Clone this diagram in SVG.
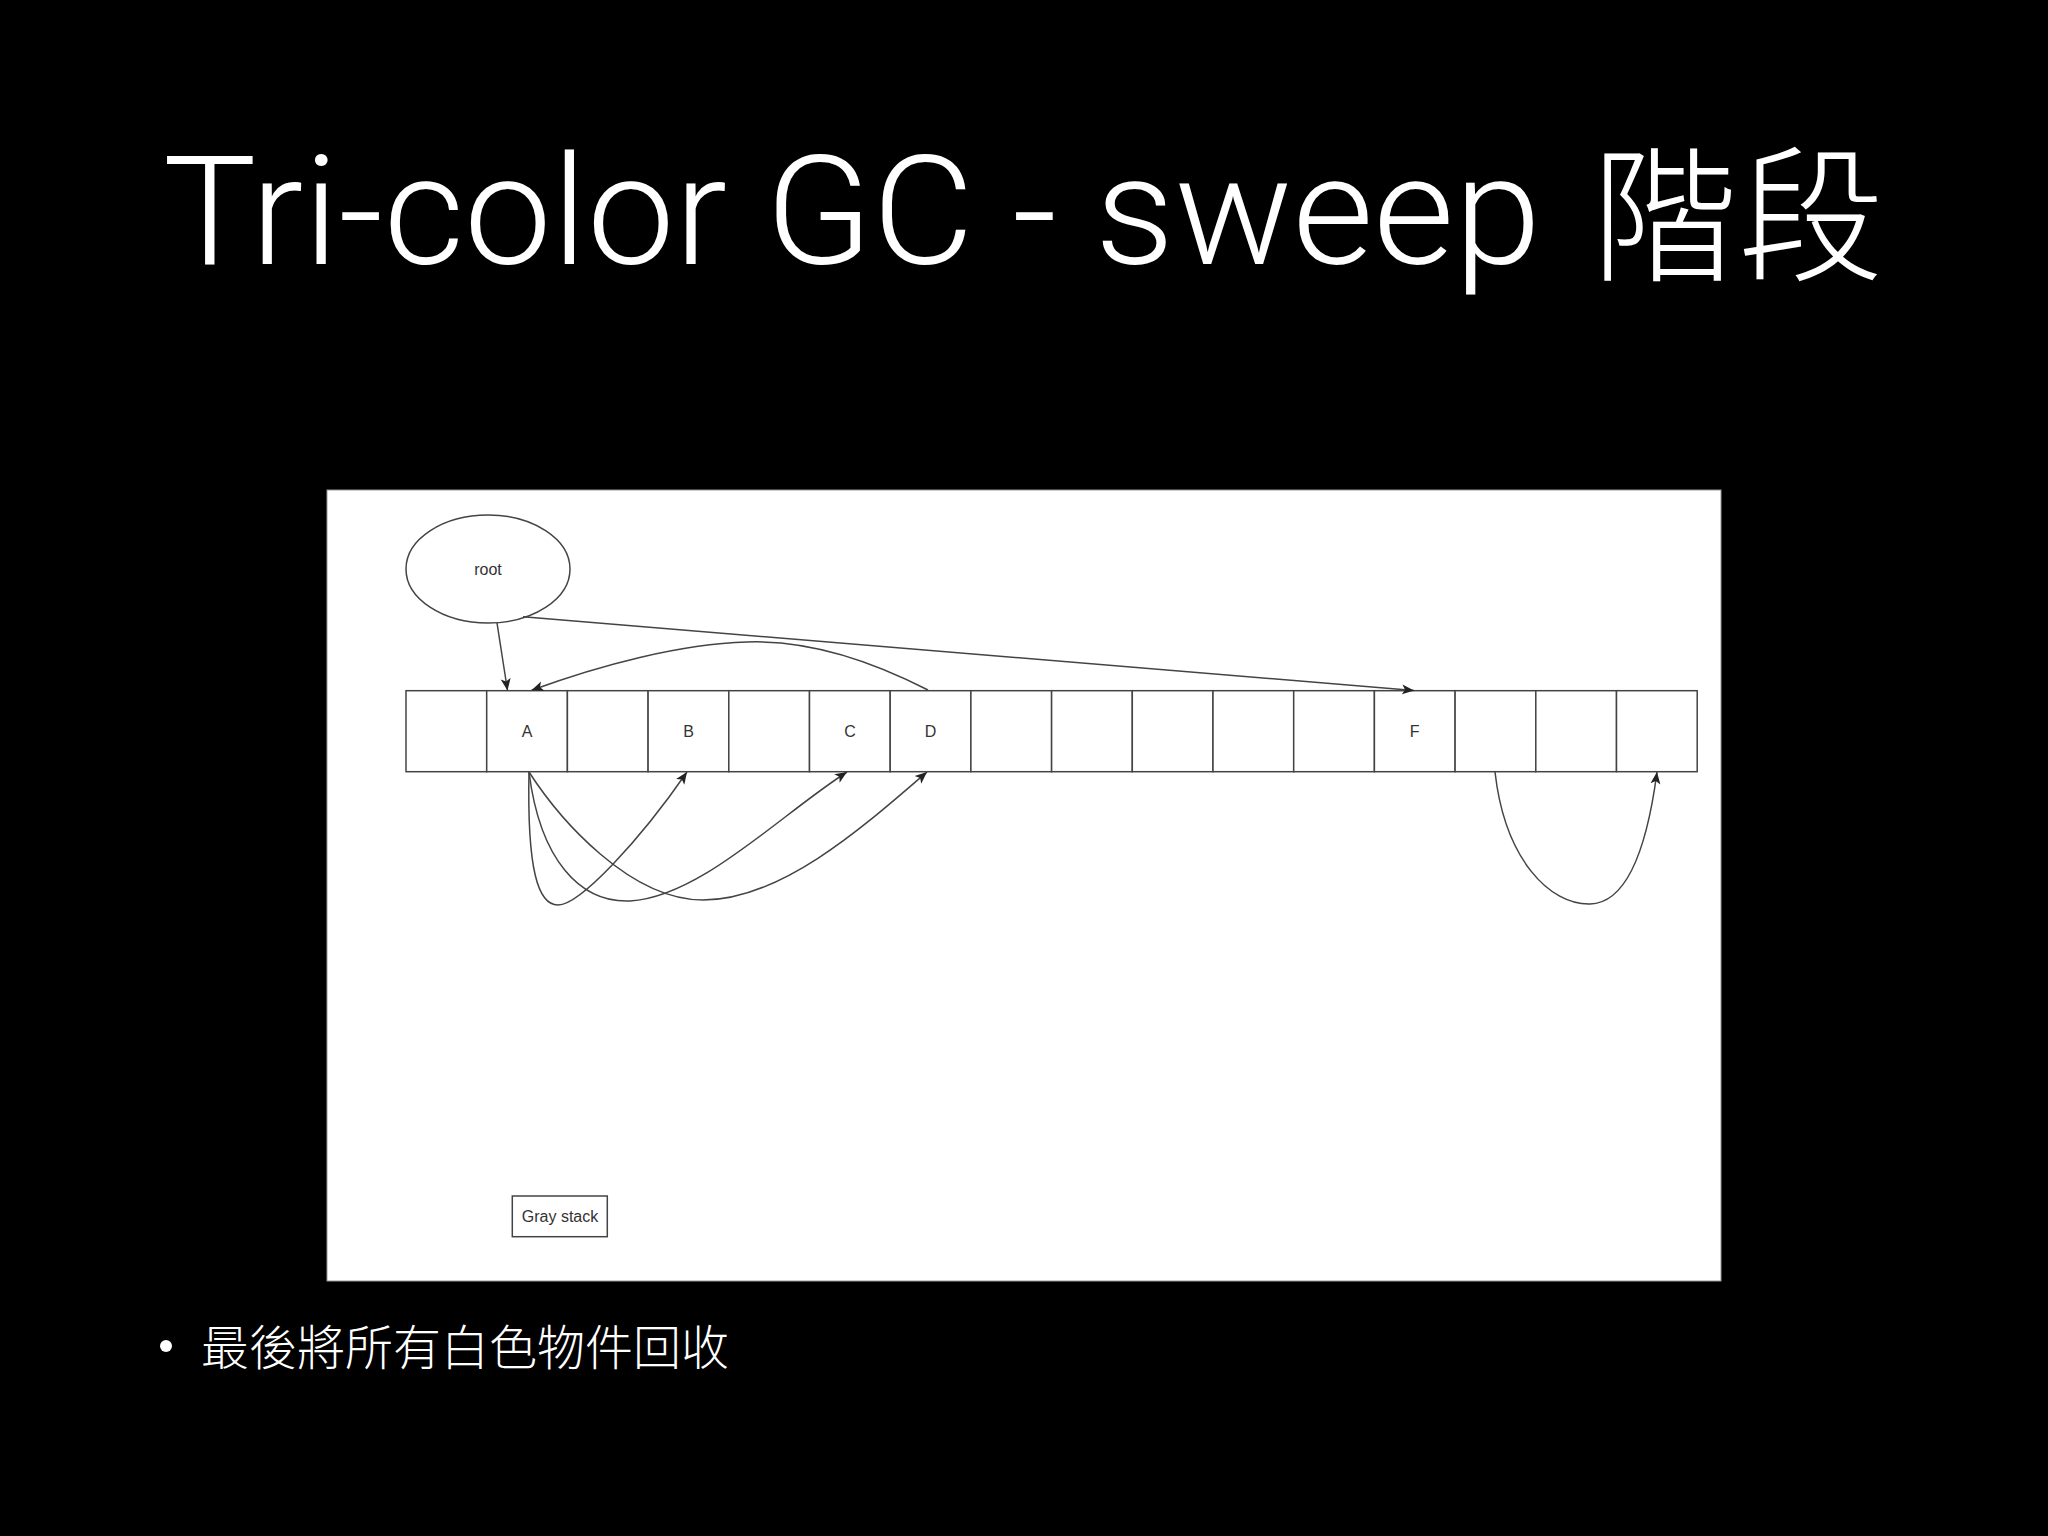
<svg xmlns="http://www.w3.org/2000/svg" width="2048" height="1536" viewBox="0 0 2048 1536">
<style>
.cell{fill:#fff;stroke:#444;stroke-width:1.5}
.lbl{font-family:"Liberation Sans",Arial,sans-serif;font-size:16px;fill:#333;text-anchor:middle}
.edge{fill:none;stroke:#444;stroke-width:1.5}
.title{font-family:Roboto,"Liberation Sans",sans-serif;font-weight:300;fill:#fff}
.cjk{font-family:"Noto Sans CJK TC","Noto Sans CJK SC",sans-serif;font-weight:300;fill:#fff}
</style>
<defs>
<marker id="arr" markerUnits="userSpaceOnUse" markerWidth="14" markerHeight="12" refX="12" refY="6" orient="auto">
<path d="M0,1 L12,6 L0,11 L3,6 Z" fill="#222"/>
</marker>
</defs>
<rect x="0" y="0" width="2048" height="1536" fill="#000"/>
<text class="title" x="163" y="264" font-size="152" textLength="1378" lengthAdjust="spacingAndGlyphs">Tri-color GC - sweep</text>
<text class="cjk" x="1592" y="269" font-size="146">階段</text>
<rect x="327" y="490" width="1394" height="791" fill="#fff" stroke="#999" stroke-width="1"/>
<g id="root">
<ellipse cx="488" cy="569" rx="82" ry="54" fill="#fff" stroke="#444" stroke-width="1.5"/>
<text class="lbl" x="488" y="575">root</text>
</g>
<g id="cells">
<g id="cell0"><rect class="cell" x="406" y="690.7" width="80.7" height="81"/></g>
<g id="cellA"><rect class="cell" x="486.7" y="690.7" width="80.7" height="81"/><text class="lbl" x="527" y="737">A</text></g>
<g id="cell2"><rect class="cell" x="567.4" y="690.7" width="80.7" height="81"/></g>
<g id="cellB"><rect class="cell" x="648.1" y="690.7" width="80.7" height="81"/><text class="lbl" x="688.5" y="737">B</text></g>
<g id="cell4"><rect class="cell" x="728.8" y="690.7" width="80.7" height="81"/></g>
<g id="cellC"><rect class="cell" x="809.5" y="690.7" width="80.7" height="81"/><text class="lbl" x="850" y="737">C</text></g>
<g id="cellD"><rect class="cell" x="890.2" y="690.7" width="80.7" height="81"/><text class="lbl" x="930.5" y="737">D</text></g>
<g id="cell7"><rect class="cell" x="970.9" y="690.7" width="80.7" height="81"/></g>
<g id="cell8"><rect class="cell" x="1051.6" y="690.7" width="80.7" height="81"/></g>
<g id="cell9"><rect class="cell" x="1132.3" y="690.7" width="80.7" height="81"/></g>
<g id="cell10"><rect class="cell" x="1213" y="690.7" width="80.7" height="81"/></g>
<g id="cell11"><rect class="cell" x="1293.7" y="690.7" width="80.7" height="81"/></g>
<g id="cellF"><rect class="cell" x="1374.4" y="690.7" width="80.7" height="81"/><text class="lbl" x="1414.7" y="737">F</text></g>
<g id="cell13"><rect class="cell" x="1455.1" y="690.7" width="80.7" height="81"/></g>
<g id="cell14"><rect class="cell" x="1535.8" y="690.7" width="80.7" height="81"/></g>
<g id="cell15"><rect class="cell" x="1616.5" y="690.7" width="80.7" height="81"/></g>
</g>
<g id="graystack">
<rect x="512.3" y="1196" width="95" height="40.7" fill="#fff" stroke="#444" stroke-width="1.5"/>
<text class="lbl" x="560" y="1222">Gray stack</text>
</g>
<g id="connectors">
<path class="edge" marker-end="url(#arr)" d="M497,623 L507.5,690.5"/>
<path class="edge" marker-end="url(#arr)" d="M523,616.7 L1414,690.5"/>
<path class="edge" marker-end="url(#arr)" d="M928,690 C860,655 800,640 747,642 C680,644 600,665 531.5,690.3"/>
<path class="edge" marker-end="url(#arr)" d="M529,772 C527,870 538,905 558,905 C580,905 640,840 687,772"/>
<path class="edge" marker-end="url(#arr)" d="M529,772 C540,860 580,903 630,901 C700,897 780,815 847,772"/>
<path class="edge" marker-end="url(#arr)" d="M529,772 C560,820 630,900 703,900 C780,900 860,830 927,772"/>
<path class="edge" marker-end="url(#arr)" d="M1495,772 C1505,860 1550,905 1590,904 C1630,903 1648,840 1657,772"/>
</g>
<circle cx="166" cy="1346" r="6" fill="#fff"/>
<text class="cjk" x="201" y="1365" font-size="48">最後將所有白色物件回收</text>
</svg>
